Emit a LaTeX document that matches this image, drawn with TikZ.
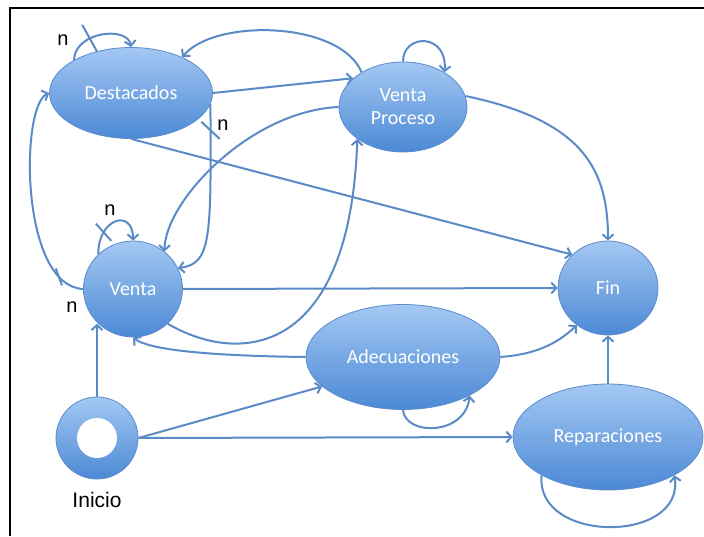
\documentclass[tikz,border=0pt]{standalone}
\usepackage{fontspec}
\setmainfont{Liberation Sans}
\newfontfamily\carlito{Carlito}
\usepackage{tikz}
\usetikzlibrary{shapes.geometric,arrows.meta}
\definecolor{claro}{HTML}{A4C8F3}
\definecolor{oscuro}{HTML}{4C89D5}
\definecolor{borde}{HTML}{5B8CCB}
\definecolor{linea}{HTML}{5A8BC7}
\tikzstyle{estado} = [ellipse, draw=borde, line width=0.8pt, top color=claro,
    bottom color=oscuro, text=white, inner sep=0pt, align=center,
    font=\carlito\fontsize{20}{23}\selectfont]
\tikzstyle{flecha} = [draw=linea, line width=2pt,
    -{Straight Barb[length=5pt,width=11pt]}]
\tikzstyle{marca} = [draw=linea, line width=2pt, rectangle,
    minimum width=0pt, inner sep=0pt]
\tikzstyle{etiqueta} = [font=\fontsize{20}{22}\selectfont, inner sep=0pt]

\begin{document}
\begin{tikzpicture}[x=1pt,y=1pt]
                \useasboundingbox (0,0) rectangle (704,536);
                \fill[white] (0,0) rectangle (704,536);
                \draw[line width=2pt] (10,0) -- (10,528) -- (704,528);
                \node [estado, minimum width=163, minimum height=91] (dest) at (131,443) {Destacados};
                \node [estado, minimum width=128, minimum height=90] (vproc) at (403,429) {Venta\\Proceso};
                \node [estado, minimum width=99, minimum height=96] (venta) at (133,247) {Venta};
                \node [estado, minimum width=100, minimum height=94] (fin) at (608,248) {Fin};
                \node [estado, minimum width=194, minimum height=105] (adec) at (403,179) {Adecuaciones};
                \node [estado, minimum width=190, minimum height=106] (repar) at (608,99) {Reparaciones};
                \node [estado, circle, minimum size=82] (inicio) at (97,98) {};
                \node [circle, fill=white, minimum size=40, inner sep=0pt] (hueco) at (inicio) {};
                \node [etiqueta, font=\fontsize{21}{23}\selectfont] (inicioTxt) at (97,36) {Inicio};
                \draw[flecha] (dest.150) .. controls (75,505) and (128,510) .. (dest.north)
                    node[marca, pos=0.35, minimum height=31, rotate=29] {};
                \node [etiqueta] (n1) at (63,496) {n};
                \draw[flecha] (vproc.140) .. controls (340,515) and (215,518) .. (dest.35);
                \draw[flecha] (dest.east) -- (vproc.150);
                \draw[flecha] (vproc.north) .. controls (403,503) and (448,503) .. (vproc.40);
                \draw[flecha] (dest.south) -- (fin.137);
                \draw[flecha] (vproc.10) .. controls (585,415) and (608,365) .. (fin.north);
                \draw[flecha] (dest.-8) .. controls (211,300) and (212,272) .. (venta.25)
                    node[marca, pos=0.07, minimum height=25, rotate=47] {};
                \node [etiqueta] (n2) at (223,411) {n};
                \draw[flecha] (vproc.west) .. controls (250,425) and (165,335) .. (venta.50);
                \draw[flecha] (venta.-45) .. controls (240,170) and (350,180) .. (vproc.215);
                \draw[flecha] (venta.135) .. controls (98,318) and (133,328) .. (venta.north)
                    node[marca, pos=0.25, minimum height=23, rotate=42] {};
                \node [etiqueta] (n3) at (110,326) {n};
                \draw[flecha] (venta.west) .. controls (20,250) and (20,430) .. (dest.west)
                    node[marca, pos=0.15, minimum height=18, rotate=20] {};
                \node [etiqueta] (n4) at (72,229) {n};
                \draw[flecha] (venta.east) -- (fin.west);
                \draw[flecha] (adec.west) .. controls (220,180) and (150,185) .. (venta.south);
                \draw[flecha] (adec.east) .. controls (540,182) and (560,195) .. (fin.230);
                \draw[flecha] (adec.south) .. controls (405,100) and (465,100) .. (adec.-30);
                \draw[flecha] (repar.north) -- (fin.south);
                \draw[flecha] (repar.210) .. controls (535,-8) and (685,-8) .. (repar.-30);
                \draw[flecha] (inicio.north) -- (inicio.north |- venta.-135);
                \draw[flecha] (inicio.east) -- (adec.200);
                \draw[flecha] (inicio.east) -- (repar.west);
            \end{tikzpicture}
\end{document}
